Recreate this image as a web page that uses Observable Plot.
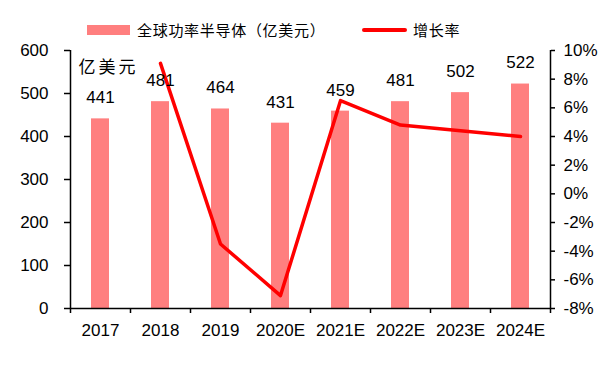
<!DOCTYPE html>
<html><head><meta charset="utf-8">
<script src="https://cdn.jsdelivr.net/npm/d3@7"></script>
<script src="https://cdn.jsdelivr.net/npm/@observablehq/plot@0.6"></script>
<style>
body{margin:0;background:#fff;font-family:"Liberation Sans",Arial,sans-serif}
#wrap{position:relative;width:614px;height:365px}
.lg{position:absolute;font-family:"Noto Sans CJK SC",sans-serif;font-size:15px;letter-spacing:0.7px;line-height:20px;color:#000;white-space:nowrap}
</style></head><body>
<div id="wrap"></div>
<script>
const years = ["2017","2018","2019","2020E","2021E","2022E","2023E","2024E"];
const sales = [441,481,464,431,459,481,502,522];
const growthYears = ["2018","2019","2020E","2021E","2022E","2023E","2024E"];
const growth = [9.1,-3.5,-7.1,6.5,4.8,4.4,4.0];
const leftTicks = [0,100,200,300,400,500,600];
const rightTicks = [-8,-6,-4,-2,0,2,4,6,8,10];
const unitLabel = "亿美元";
const seriesNames = ["全球功率半导体（亿美元）","增长率"];
const barColor = "#FF7F7F";
const lineColor = "#FF0000";

const gMin = -8, gMax = 10, yMax = 600;
const gToY = g => (g - gMin) / (gMax - gMin) * yMax;
const yToG = y => y / yMax * (gMax - gMin) + gMin;

const bars = years.map((year, i) => ({year, value: sales[i]}));
const lineData = growthYears.map((year, i) => ({year, g: growth[i]}));

const wrap = document.getElementById("wrap");
const chart = Plot.plot({
  width: 614, height: 365,
  marginTop: 50, marginBottom: 57, marginLeft: 70, marginRight: 64,
  style: {fontFamily: "'Liberation Sans', Arial, sans-serif", fontSize: "17px", color: "#000", background: "#fff"},
  x: {domain: years, paddingInner: 0.7, paddingOuter: 0.35, label: null},
  y: {domain: [0, yMax], label: null},
  marks: [
    Plot.barY(bars, {x: "year", y: "value", fill: barColor}),
    Plot.ruleY([0], {stroke: "#000", strokeWidth: 1.5}),
    Plot.ruleX([years[0]], {dx: -30, y1: 0, y2: yMax, stroke: "#000", strokeWidth: 1.5}),
    Plot.ruleX([years[years.length - 1]], {dx: 30, y1: 0, y2: yMax, stroke: "#000", strokeWidth: 1.5}),
    Plot.axisY({ticks: leftTicks, tickSize: 6, tickPadding: 16, label: null, tickFormat: d3.format("d"), strokeWidth: 1.5}),
    Plot.axisY({anchor: "right", ticks: rightTicks.map(gToY), tickSize: 4, tickPadding: 9, label: null,
      tickFormat: d => Math.round(yToG(d)) + "%", strokeWidth: 1.5}),
    Plot.axisX({tickSize: 0, tickPadding: 15, label: null}),
    Plot.axisX({tickSize: 5, tickFormat: () => "", dx: -30, label: null, strokeWidth: 1.5}),
    Plot.axisX({ticks: [years[years.length - 1]], tickSize: 5, tickFormat: () => "", dx: 30, label: null, strokeWidth: 1.5}),
    Plot.line(lineData, {x: "year", y: d => gToY(d.g), stroke: lineColor, strokeWidth: 3.5}),
    Plot.text(bars, {x: "year", y: "value", text: d => String(d.value), dy: -21, fontSize: 17}),
    Plot.text([unitLabel], {frameAnchor: "top-left", text: d => d, textAnchor: "start", dx: 8, dy: 10,
      fontSize: 17, fontFamily: "'Noto Sans CJK SC', sans-serif"})
  ]
});
wrap.appendChild(chart);
d3.select(chart).selectAll("text").filter(function() { return this.textContent === unitLabel; })
  .style("letter-spacing", "3px");

function addLegend() {
  const r = document.createElement("div");
  r.style.cssText = `position:absolute;left:87px;top:25px;width:43px;height:10px;background:${barColor}`;
  wrap.appendChild(r);
  const t1 = document.createElement("div");
  t1.className = "lg"; t1.style.left = "137px"; t1.style.top = "20px"; t1.textContent = seriesNames[0];
  wrap.appendChild(t1);
  const l = document.createElement("div");
  l.style.cssText = `position:absolute;left:362px;top:28px;width:45px;height:4px;border-radius:2px;background:${lineColor}`;
  wrap.appendChild(l);
  const t2 = document.createElement("div");
  t2.className = "lg"; t2.style.left = "413px"; t2.style.top = "20px"; t2.textContent = seriesNames[1];
  wrap.appendChild(t2);
}
addLegend();
</script>
</body></html>
